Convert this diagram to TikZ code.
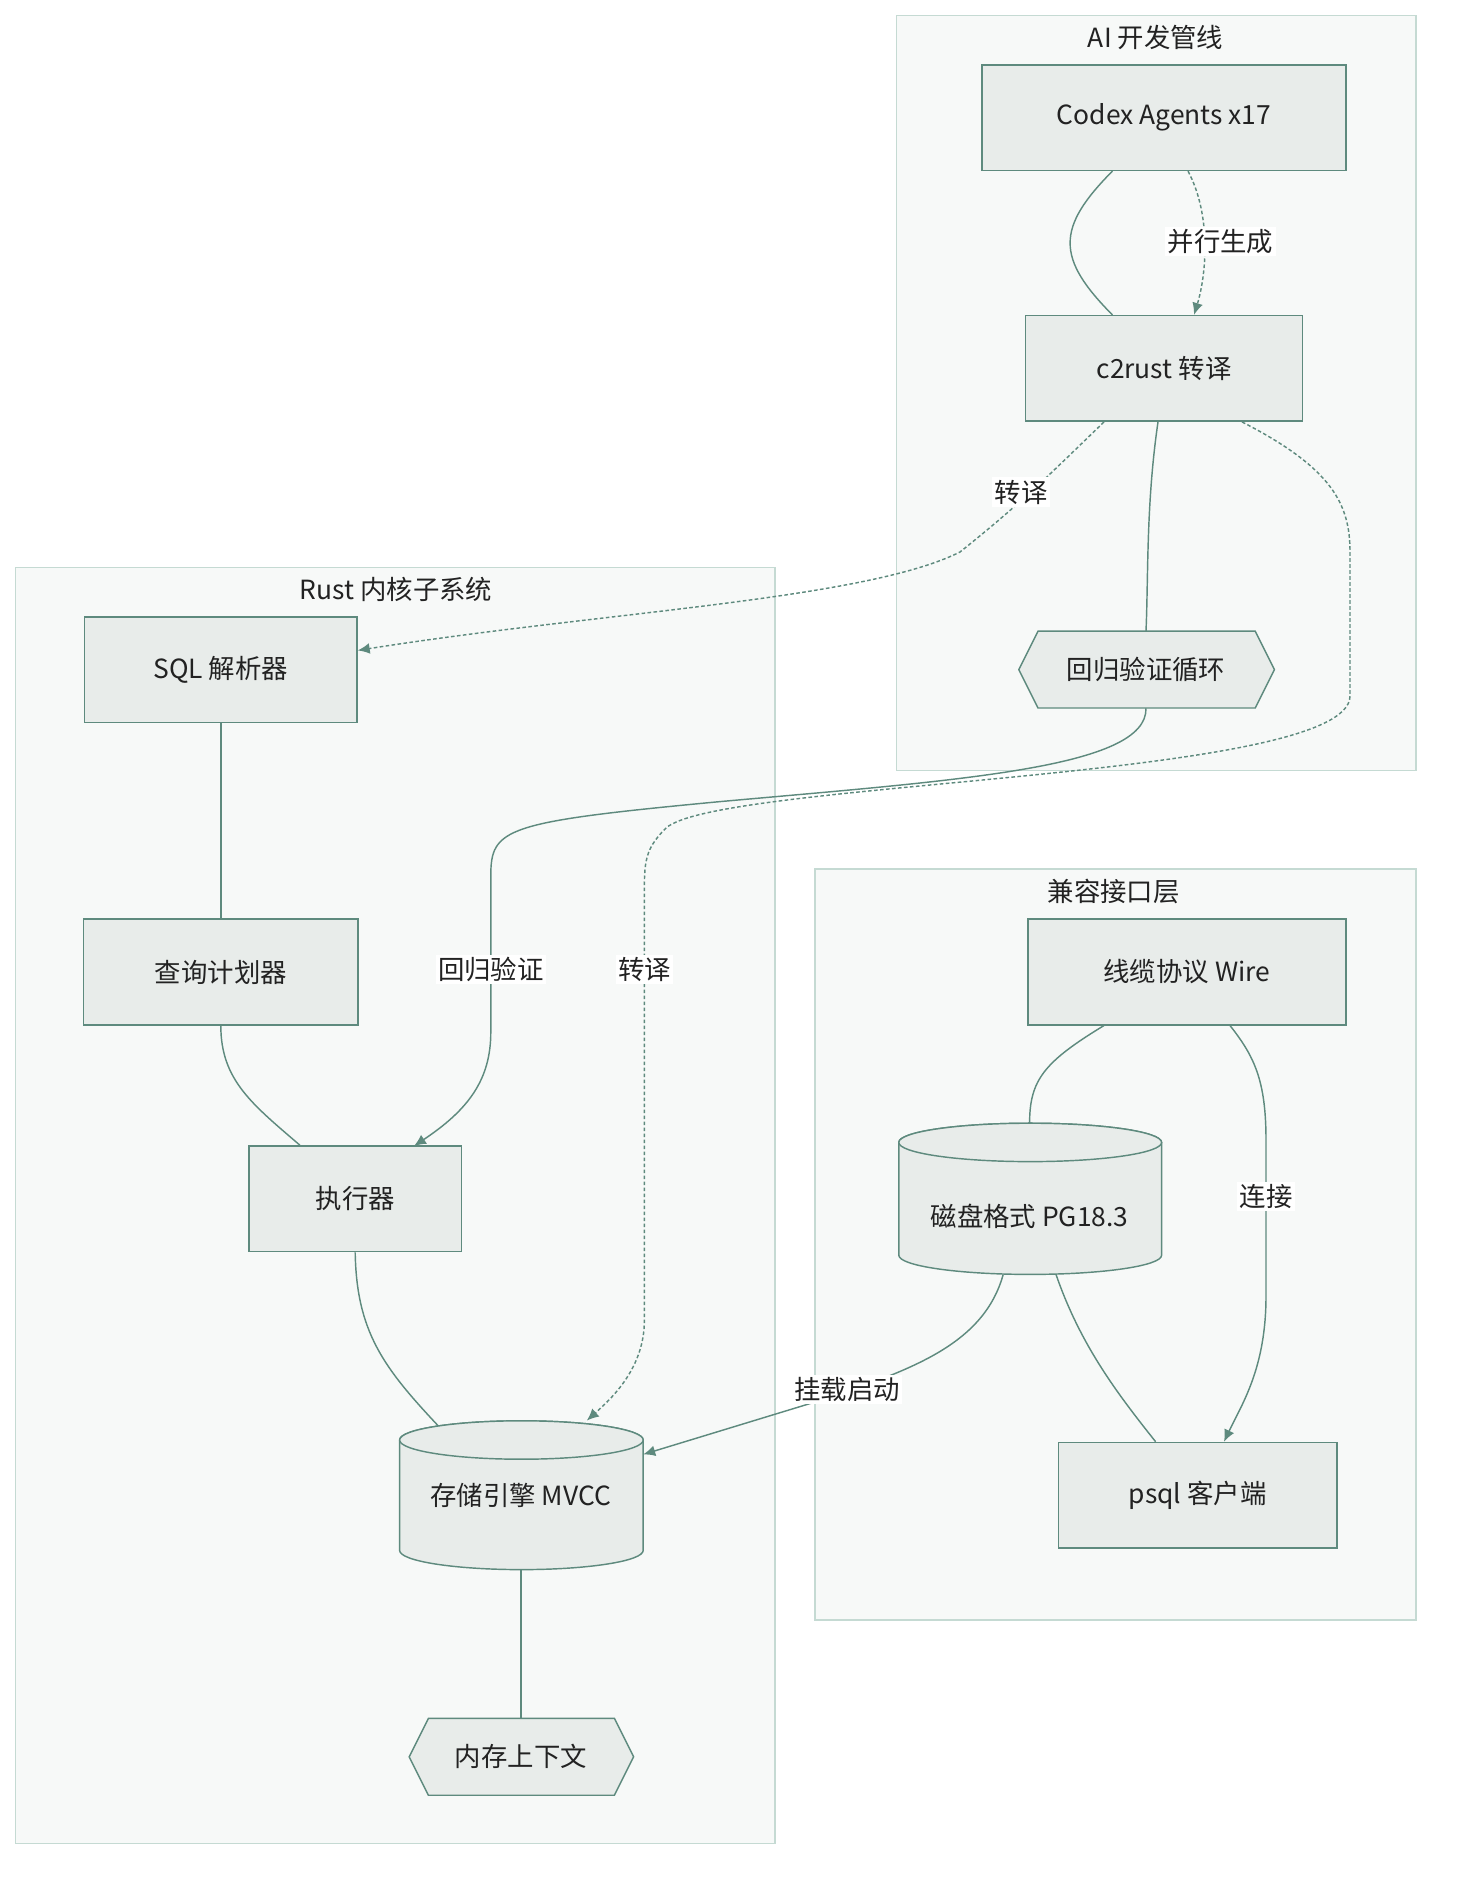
\documentclass[tikz,border=0pt]{standalone}
\usepackage{fontspec}
\setmainfont{Noto Sans CJK SC}
\usetikzlibrary{arrows.meta,calc}
\definecolor{nfill}{HTML}{E8ECEA}
\definecolor{nline}{HTML}{5E8A7E}
\definecolor{ffill}{HTML}{F7F9F8}
\definecolor{fline}{HTML}{C5DAD3}
\definecolor{txt}{HTML}{222222}
\begin{document}
\begin{tikzpicture}[x=1pt,y=-1pt,
  every node/.style={font=\fontsize{22}{26}\selectfont,text=txt},
  frame/.style={draw=fline,fill=ffill,line width=1.2pt},
  box/.style={draw=nline,fill=nfill,line width=1.2pt,minimum width=#1,minimum height=88pt,inner sep=0pt},
  lnk/.style={draw=nline,line width=1.2pt},
  dsh/.style={draw=nline,line width=1.2pt,dash pattern=on 3pt off 2pt},
  arr/.style={-{Latex[length=10pt,width=9pt]}},
  lbl/.style={fill=white,inner sep=2pt}]
\useasboundingbox (0,0) rectangle (1215,1580);
% frames
\draw[frame] (747,13) rectangle (1180,642);
\node (t1) at (963,31) {AI 开发管线};
\draw[frame] (13,473) rectangle (646,1536);
\node (t2) at (330,491) {Rust 内核子系统};
\draw[frame] (679,724) rectangle (1180,1350);
\node (t3) at (928,743) {兼容接口层};
% boxes
\node[box=303pt] (codex) at (970,98) {Codex Agents x17};
\node[box=231pt] (c2r) at (970,307) {c2rust 转译};
\node[box=227pt] (sql) at (184,558) {SQL 解析器};
\node[box=229pt] (plan) at (184,810) {查询计划器};
\node[box=177pt] (exec) at (296,999) {执行器};
\node[box=265pt] (wire) at (989,810) {线缆协议 Wire};
\node[box=232pt] (psql) at (998,1246) {psql 客户端};
% hexagons
\draw[lnk,fill=nfill] (849,558)--(865,526)--(1046,526)--(1062,558)--(1046,590)--(865,590)--cycle;
\node[minimum width=213pt,minimum height=64pt] (loop) at (955,558) {回归验证循环};
\draw[lnk,fill=nfill] (341,1464)--(357,1432)--(512,1432)--(528,1464)--(512,1496)--(357,1496)--cycle;
\node[minimum width=187pt,minimum height=64pt] (mem) at (434,1464) {内存上下文};
% cylinders
\draw[lnk,fill=nfill] (333,1200) arc[start angle=180,end angle=360,x radius=101.5,y radius=16] -- (536,1292) arc[start angle=0,end angle=180,x radius=101.5,y radius=16] -- cycle;
\draw[lnk,fill=nfill] (333,1200) arc[start angle=180,end angle=-180,x radius=101.5,y radius=16];
\node[minimum width=203pt,minimum height=124pt] (stor) at (434,1246) {存储引擎 MVCC};
\draw[lnk,fill=nfill] (749,952) arc[start angle=180,end angle=360,x radius=109.5,y radius=16] -- (968,1046) arc[start angle=0,end angle=180,x radius=109.5,y radius=16] -- cycle;
\draw[lnk,fill=nfill] (749,952) arc[start angle=180,end angle=-180,x radius=109.5,y radius=16];
\node[minimum width=219pt,minimum height=126pt] (disk) at (858,999) {};
\node (disktxt) at (858,1014) {磁盘格式 PG18.3};
% edges
\draw[lnk] ([xshift=-43pt]codex.south) .. controls (880,190) and (880,215) .. ([xshift=-43pt]c2r.north);
\draw[dsh,arr] ([xshift=20pt]codex.south) .. controls (1010,180) and (1005,230) .. ([xshift=25pt]c2r.north);
\node[lbl] (l1) at (1017,201) {并行生成};
\draw[dsh,arr] ([xshift=-50pt]c2r.south) .. controls (870,400) and (850,420) .. (800,460) .. controls (720,500) and (500,510) .. (sql.east|-0,542);
\node[lbl] (l2) at (851,410) {转译};
\draw[lnk] ([xshift=-5pt]c2r.south) .. controls (955,420) and (957,480) .. (loop.north);
\draw[dsh,arr] ([xshift=65pt]c2r.south) .. controls (1110,390) and (1125,420) .. (1125,460) -- (1125,580) .. controls (1125,650) and (600,650) .. (555,690) .. controls (535,710) and (537,720) .. (537,760) -- (537,1100) .. controls (537,1140) and (510,1165) .. ([xshift=55pt]stor.north);
\node[lbl] (l3) at (537,808) {转译};
\draw[lnk,arr] (loop.south) .. controls (956,640) and (800,650) .. (600,668) .. controls (420,685) and (409,690) .. (409,730) -- (409,860) .. controls (409,900) and (390,925) .. (345,955);
\node[lbl] (l4) at (409,808) {回归验证};
\draw[lnk] (sql.south) -- (plan.north);
\draw[lnk] (plan.south) .. controls (184,900) and (210,920) .. ([xshift=-46pt]exec.north);
\draw[lnk] (exec.south) .. controls (297,1110) and (320,1140) .. (365,1188);
\draw[lnk] (stor.south) -- (mem.north);
\draw[lnk] ([xshift=-69pt]wire.south) .. controls (870,885) and (858,900) .. (858,936);
\draw[lnk,arr] ([xshift=36pt]wire.south) .. controls (1045,880) and (1055,900) .. (1055,950) -- (1055,1080) .. controls (1055,1140) and (1035,1170) .. ([xshift=22pt]psql.north);
\node[lbl] (l5) at (1055,997) {连接};
\draw[lnk,arr] (836,1062) .. controls (820,1120) and (760,1140) .. (700,1162) -- (536,1212);
\node[lbl] (l6) at (706,1158) {挂载启动};
\draw[lnk] (880,1062) .. controls (900,1120) and (930,1160) .. ([xshift=-35pt]psql.north);
\end{tikzpicture}
\end{document}
